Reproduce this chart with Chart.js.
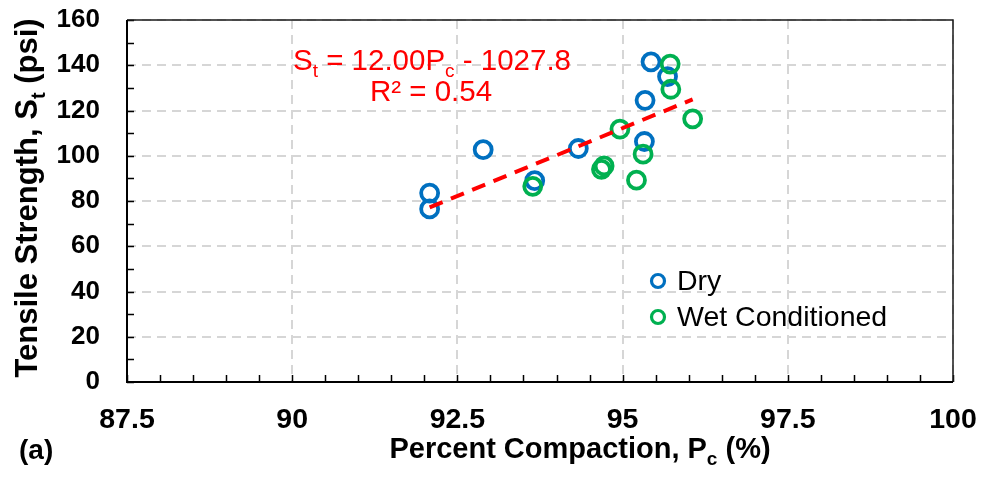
<!DOCTYPE html>
<html>
<head>
<meta charset="utf-8">
<script src="https://cdn.jsdelivr.net/npm/chart.js@4.4.1/dist/chart.umd.min.js"></script>
<style>
  body { margin: 0; background: #fff; }
  #wrap { width: 982px; height: 477px; }
</style>
</head>
<body>
<div id="wrap"><canvas id="strengthChart"></canvas></div>
<script>
// Dry specimens
const dryCompaction = [92.08, 92.08, 92.89, 93.67, 94.33, 95.33, 95.34, 95.43, 95.68];
const dryStrength   = [76.5, 83.5, 102.7, 89.0, 103.2, 106.3, 124.5, 141.5, 135.0];

// Wet conditioned specimens
const wetCompaction = [93.64, 94.68, 94.72, 94.96, 95.21, 95.31, 95.72, 95.73, 96.06];
const wetStrength   = [86.5, 94.0, 95.5, 111.8, 89.2, 100.7, 140.5, 129.4, 116.3];

const seriesLabels = ['Dry', 'Wet Conditioned'];
const xTicks = [87.5, 90, 92.5, 95, 97.5, 100];
const yTicks = [0, 20, 40, 60, 80, 100, 120, 140, 160];

// linear fit over all specimens
const fitSlope = 12.00;
const fitIntercept = -1027.8;
const fitR2 = 0.54;

const FONT = '"Liberation Sans", Arial, Helvetica, sans-serif';
const BLUE = '#0070C0';
const GREEN = '#00B050';
const RED = '#FF0000';

const allX = dryCompaction.concat(wetCompaction);
const fitX = [Math.min(...allX), Math.max(...allX)];
const fitPoints = fitX.map(x => ({ x: x, y: fitSlope * x + fitIntercept }));

function toPoints(xs, ys) {
  return xs.map((x, i) => ({ x: x, y: ys[i] }));
}

// draws a run of text pieces, some of them as subscripts
function drawRich(ctx, parts, x, y, size, weight, color, align) {
  const mainFont = weight + ' ' + size + 'px ' + FONT;
  const subFont = weight + ' ' + Math.round(size * 0.66) + 'px ' + FONT;
  let total = 0;
  parts.forEach(p => {
    ctx.font = p.sub ? subFont : mainFont;
    p.w = ctx.measureText(p.text).width;
    total += p.w;
  });
  let cx = x;
  if (align === 'center') cx = x - total / 2;
  if (align === 'right') cx = x - total;
  ctx.fillStyle = color;
  ctx.textAlign = 'left';
  ctx.textBaseline = 'alphabetic';
  parts.forEach(p => {
    ctx.font = p.sub ? subFont : mainFont;
    ctx.fillText(p.text, cx, y + (p.sub ? size * 0.25 : 0));
    cx += p.w;
  });
}

// plot frame plus the small inward tick marks
const frameTicks = {
  id: 'frameTicks',
  afterDatasetsDraw(chart) {
    const { ctx, chartArea: a, scales } = chart;
    ctx.save();
    ctx.strokeStyle = '#000';
    ctx.lineWidth = 1.5;
    ctx.beginPath();
    for (let i = 0; i <= 16; i++) {
      const py = Math.round(scales.y.getPixelForValue(i * 10)) + 0.5;
      ctx.moveTo(a.left, py);
      ctx.lineTo(a.left + 7, py);
    }
    for (let i = 0; i <= 25; i++) {
      const px = Math.round(scales.x.getPixelForValue(87.5 + i * 0.5)) + 0.5;
      ctx.moveTo(px, a.bottom);
      ctx.lineTo(px, a.bottom - 7);
    }
    ctx.stroke();

    ctx.strokeStyle = '#1a1a1a';
    ctx.lineWidth = 1.5;
    ctx.beginPath();
    ctx.moveTo(a.left, a.top);
    ctx.lineTo(a.right, a.top);
    ctx.lineTo(a.right, a.bottom);
    ctx.stroke();

    ctx.strokeStyle = '#000';
    ctx.lineWidth = 2;
    ctx.beginPath();
    ctx.moveTo(a.left, a.top);
    ctx.lineTo(a.left, a.bottom);
    ctx.lineTo(a.right, a.bottom);
    ctx.stroke();
    ctx.restore();
  }
};

// axis titles, fit equation, legend and panel tag
const annotations = {
  id: 'annotations',
  afterDraw(chart) {
    const { ctx } = chart;
    ctx.save();

    drawRich(ctx, [
      { text: 'Percent Compaction, P' }, { text: 'c', sub: true }, { text: ' (%)' }
    ], 580, 458, 29, 'bold', '#000', 'center');

    ctx.save();
    ctx.translate(37, 198);
    ctx.rotate(-Math.PI / 2);
    drawRich(ctx, [
      { text: 'Tensile Strength, S' }, { text: 't', sub: true }, { text: ' (psi)' }
    ], 0, 0, 31, 'bold', '#000', 'center');
    ctx.restore();

    drawRich(ctx, [
      { text: 'S' }, { text: 't', sub: true },
      { text: ' = ' + fitSlope.toFixed(2) + 'P' }, { text: 'c', sub: true },
      { text: ' - ' + Math.abs(fitIntercept).toFixed(1) }
    ], 432, 70, 29.5, 'normal', RED, 'center');
    drawRich(ctx, [{ text: 'R² = ' + fitR2.toFixed(2) }], 431, 101, 29.5, 'normal', RED, 'center');

    drawRich(ctx, [{ text: '(a)' }], 19, 459, 28, 'bold', '#000', 'left');

    // legend
    const colors = [BLUE, GREEN];
    seriesLabels.forEach((label, i) => {
      const ly = 281 + i * 36;
      ctx.beginPath();
      ctx.arc(658, ly, 6.5, 0, Math.PI * 2);
      ctx.strokeStyle = colors[i];
      ctx.lineWidth = 3.2;
      ctx.stroke();
      ctx.fillStyle = '#000';
      ctx.font = '28.5px ' + FONT;
      ctx.textAlign = 'left';
      ctx.textBaseline = 'middle';
      ctx.fillText(label, 677, ly + 1);
    });
    ctx.restore();
  }
};

const markerStyle = {
  pointStyle: 'circle',
  pointRadius: 8.5,
  pointHoverRadius: 8.5,
  pointBorderWidth: 3.8,
  pointBackgroundColor: 'rgba(0,0,0,0)',
  showLine: false
};

new Chart(document.getElementById('strengthChart'), {
  type: 'scatter',
  data: {
    datasets: [
      {
        label: 'Linear fit',
        type: 'line',
        data: fitPoints,
        borderColor: RED,
        borderWidth: 4,
        borderDash: [14, 9],
        pointRadius: 0,
        fill: false,
        order: 0
      },
      Object.assign({
        label: seriesLabels[1],
        data: toPoints(wetCompaction, wetStrength),
        borderColor: GREEN,
        pointBorderColor: GREEN,
        order: 1
      }, markerStyle),
      Object.assign({
        label: seriesLabels[0],
        data: toPoints(dryCompaction, dryStrength),
        borderColor: BLUE,
        pointBorderColor: BLUE,
        order: 2
      }, markerStyle)
    ]
  },
  options: {
    responsive: true,
    maintainAspectRatio: false,
    animation: false,
    layout: { padding: { left: 0, right: 29, top: 20, bottom: 0 } },
    plugins: {
      legend: { display: false },
      tooltip: { enabled: false }
    },
    scales: {
      x: {
        type: 'linear',
        min: xTicks[0],
        max: xTicks[xTicks.length - 1],
        afterBuildTicks: s => { s.ticks = xTicks.map(v => ({ value: v })); },
        afterFit: s => { s.height = 95; s.paddingLeft = 0; s.paddingRight = 0; },
        grid: { color: '#d6d6d6', lineWidth: 2, drawTicks: false },
        border: { display: false, dash: [9, 6] },
        ticks: {
          padding: 21,
          color: '#000',
          maxRotation: 0,
          font: { family: FONT, size: 28.5, weight: 'bold' }
        }
      },
      y: {
        type: 'linear',
        min: yTicks[0],
        max: yTicks[yTicks.length - 1],
        afterBuildTicks: s => { s.ticks = yTicks.map(v => ({ value: v })); },
        afterFit: s => { s.width = 127; s.paddingTop = 0; s.paddingBottom = 0; },
        grid: { color: '#d6d6d6', lineWidth: 2, drawTicks: false },
        border: { display: false, dash: [9, 6] },
        ticks: {
          padding: 27,
          color: '#000',
          font: { family: FONT, size: 26, weight: 'bold' }
        }
      }
    }
  },
  plugins: [frameTicks, annotations]
});
</script>
</body>
</html>
